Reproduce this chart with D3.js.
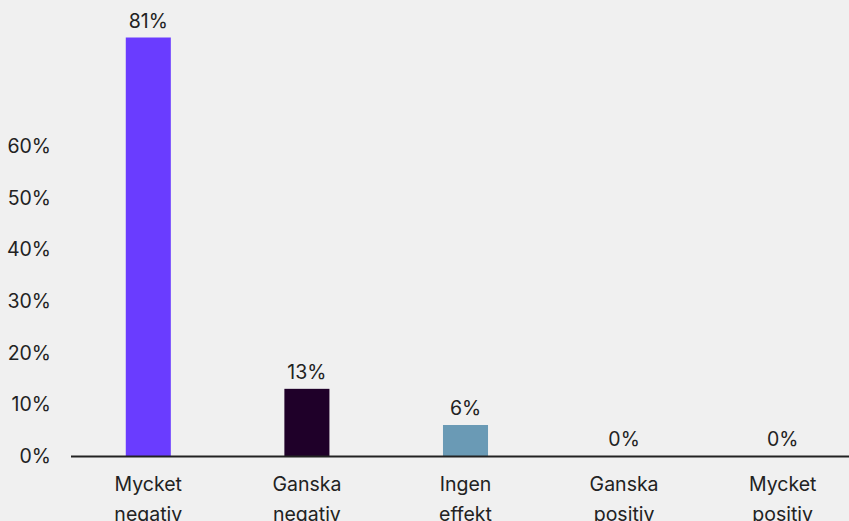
<!DOCTYPE html>
<html lang="sv">
  <head>
    <meta charset="utf-8">
    <title>Effekt</title>
    <script src="https://d3js.org/d3.v7.min.js"></script>
    <style>
      body { margin: 0; background: #f0f0f0; }
      text { font-family: Inter, "Open Sans", sans-serif; fill: #222; }
    </style>
  </head>
  <body>
    <script>
      // data
      var categories = [["Mycket", "negativ"], ["Ganska", "negativ"], ["Ingen", "effekt"], ["Ganska", "positiv"], ["Mycket", "positiv"]];
      var values = [81, 13, 6, 0, 0];
      var colors = ["#6a3cff", "#1f0029", "#6a9ab5", "#6a9ab5", "#6a9ab5"];
      var yTicks = [0, 10, 20, 30, 40, 50, 60];

      var w = 849, h = 521;
      var fs = 19.5;

      var svg = d3.select("body").append("svg")
          .attr("width", w)
          .attr("height", h);

      svg.append("rect")
          .attr("width", w)
          .attr("height", h)
          .attr("fill", "#f0f0f0");

      var xScale = d3.scaleBand()
          .domain(d3.range(values.length))
          .range([69, 862])
          .paddingInner(0.716)
          .paddingOuter(0.358);

      var yScale = d3.scaleLinear()
          .domain([0, 60])
          .range([456, 146]);

      // y tick labels
      svg.append("g").selectAll("text")
          .data(yTicks)
          .enter().append("text")
          .attr("x", 51)
          .attr("y", d => yScale(d))
          .attr("dy", "0.36em")
          .attr("text-anchor", "end")
          .attr("font-size", fs)
          .text(d => d + "%");

      // bars
      svg.append("g").selectAll("rect")
          .data(values)
          .enter().append("rect")
          .attr("x", (d, i) => xScale(i))
          .attr("y", d => yScale(d))
          .attr("width", xScale.bandwidth())
          .attr("height", d => yScale(0) - yScale(d))
          .attr("fill", (d, i) => colors[i]);

      // value labels
      svg.append("g").selectAll("text")
          .data(values)
          .enter().append("text")
          .attr("x", (d, i) => xScale(i) + xScale.bandwidth() / 2)
          .attr("y", d => yScale(d) - 10)
          .attr("text-anchor", "middle")
          .attr("font-size", fs)
          .text(d => d + "%");

      // axis line
      svg.append("line")
          .attr("x1", 71)
          .attr("x2", w)
          .attr("y1", yScale(0) + 0.5)
          .attr("y2", yScale(0) + 0.5)
          .attr("stroke", "#222")
          .attr("stroke-width", 2);

      // category labels
      var cat = svg.append("g").selectAll("text")
          .data(categories)
          .enter().append("text")
          .attr("text-anchor", "middle")
          .attr("font-size", fs);

      cat.selectAll("tspan")
          .data((d, i) => d.map(t => ({t: t, i: i})))
          .enter().append("tspan")
          .attr("x", d => xScale(d.i) + xScale.bandwidth() / 2)
          .attr("y", (d, j) => 491 + j * 30)
          .text(d => d.t);
    </script>
  </body>
</html>
